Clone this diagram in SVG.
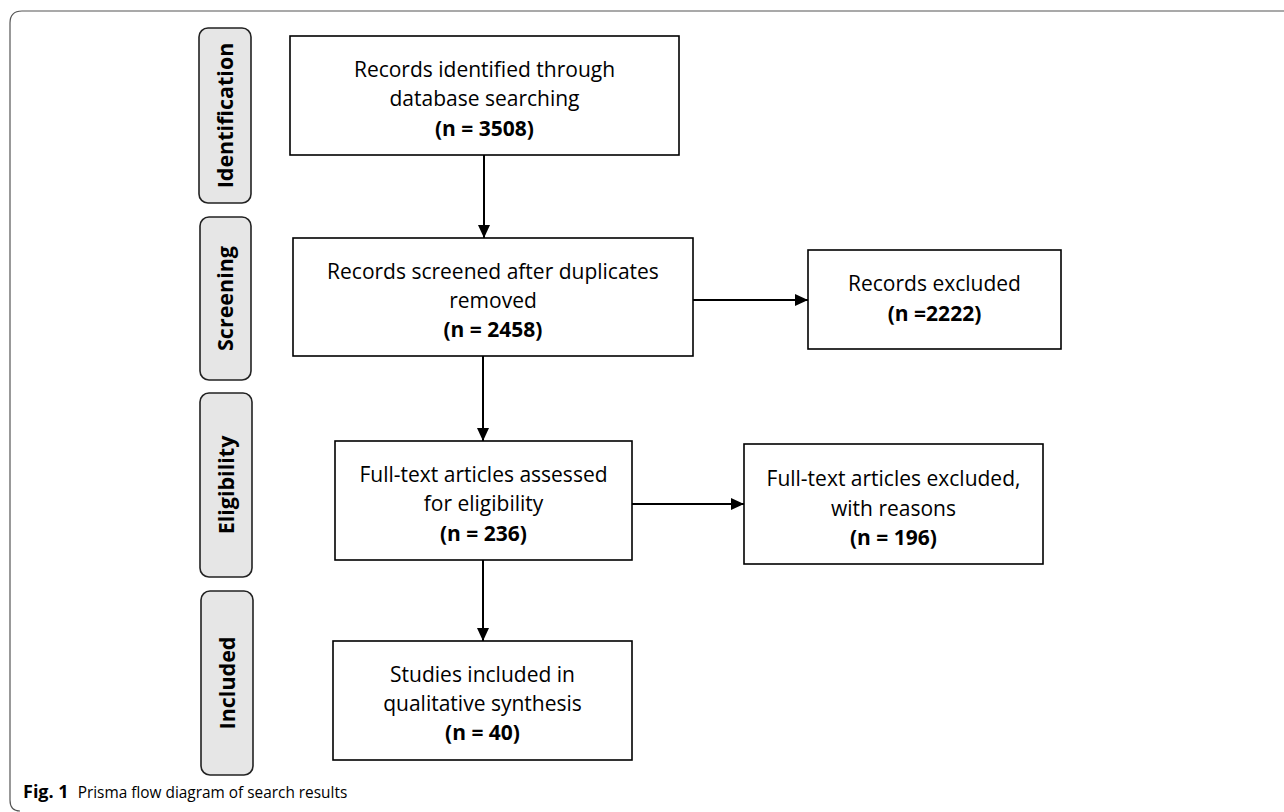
<svg xmlns="http://www.w3.org/2000/svg" width="1284" height="812" viewBox="0 0 1284 812">
<style>
.box{fill:#fff;stroke:#000;stroke-width:1.6}
.pill{fill:#e6e6e6;stroke:#222;stroke-width:1.6}
.t{font-family:"Open Sans","Liberation Sans",sans-serif;font-size:21px;fill:#000;text-anchor:middle}
.b{font-weight:bold}
.pt{font-family:"Open Sans","Liberation Sans",sans-serif;font-size:21.5px;font-weight:bold;fill:#000;text-anchor:middle}
.edge{stroke:#000;stroke-width:2;fill:none;marker-end:url(#ah)}
.cap{font-family:"Open Sans","Liberation Sans",sans-serif;font-size:15.4px;fill:#000}
</style>
<defs>
<marker id="ah" markerWidth="13" markerHeight="12" refX="13" refY="6" orient="auto" markerUnits="userSpaceOnUse">
<path d="M0,0 L13,6 L0,12 Z" fill="#000"/>
</marker>
</defs>
<rect width="1284" height="812" fill="#fff"/>
<path d="M1284,11 H22 Q10,11 10,23 V800 Q10,811 20,811" fill="none" stroke="#555" stroke-width="1.2"/>

<g id="phase-identification">
<rect class="pill" x="199" y="28" width="52" height="175" rx="9"/>
<text class="pt" transform="translate(232.5,115.5) rotate(-90)">Identification</text>
</g>
<g id="phase-screening">
<rect class="pill" x="200" y="217" width="51" height="163" rx="9"/>
<text class="pt" transform="translate(233,298.5) rotate(-90)">Screening</text>
</g>
<g id="phase-eligibility">
<rect class="pill" x="200" y="393" width="52" height="184" rx="9"/>
<text class="pt" transform="translate(233.5,485) rotate(-90)">Eligibility</text>
</g>
<g id="phase-included">
<rect class="pill" x="201" y="591" width="52" height="184" rx="9"/>
<text class="pt" transform="translate(234.5,683) rotate(-90)">Included</text>
</g>

<g id="connectors">
<line class="edge" x1="484" y1="155" x2="484" y2="238"/>
<line class="edge" x1="483" y1="356" x2="483" y2="441"/>
<line class="edge" x1="483" y1="560" x2="483" y2="641"/>
<line class="edge" x1="693" y1="300" x2="808" y2="300"/>
<line class="edge" x1="632" y1="504" x2="744" y2="504"/>
</g>

<g id="n1">
<rect class="box" x="290" y="36" width="389" height="119"/>
<text class="t" x="484.5" y="77">Records identified through</text>
<text class="t" x="484.5" y="106">database searching</text>
<text class="t b" x="484.5" y="136">(n = 3508)</text>
</g>
<g id="n2">
<rect class="box" x="293" y="238" width="400" height="118"/>
<text class="t" x="493" y="279">Records screened after duplicates</text>
<text class="t" x="493" y="308">removed</text>
<text class="t b" x="493" y="337">(n = 2458)</text>
</g>
<g id="n3">
<rect class="box" x="808" y="250" width="253" height="99"/>
<text class="t" x="934.5" y="291">Records excluded</text>
<text class="t b" x="934.5" y="321">(n =2222)</text>
</g>
<g id="n4">
<rect class="box" x="335" y="441" width="297" height="119"/>
<text class="t" x="483.5" y="482">Full-text articles assessed</text>
<text class="t" x="483.5" y="511">for eligibility</text>
<text class="t b" x="483.5" y="541">(n = 236)</text>
</g>
<g id="n5">
<rect class="box" x="744" y="444" width="299" height="120"/>
<text class="t" x="893.5" y="486">Full-text articles excluded,</text>
<text class="t" x="893.5" y="516">with reasons</text>
<text class="t b" x="893.5" y="545">(n = 196)</text>
</g>
<g id="n6">
<rect class="box" x="333" y="641" width="299" height="119"/>
<text class="t" x="482.5" y="682">Studies included in</text>
<text class="t" x="482.5" y="711">qualitative synthesis</text>
<text class="t b" x="482.5" y="740">(n = 40)</text>
</g>

<text class="cap" x="23" y="798"><tspan font-weight="bold" font-size="18px">Fig. 1</tspan><tspan dx="9">Prisma flow diagram of search results</tspan></text>
</svg>
